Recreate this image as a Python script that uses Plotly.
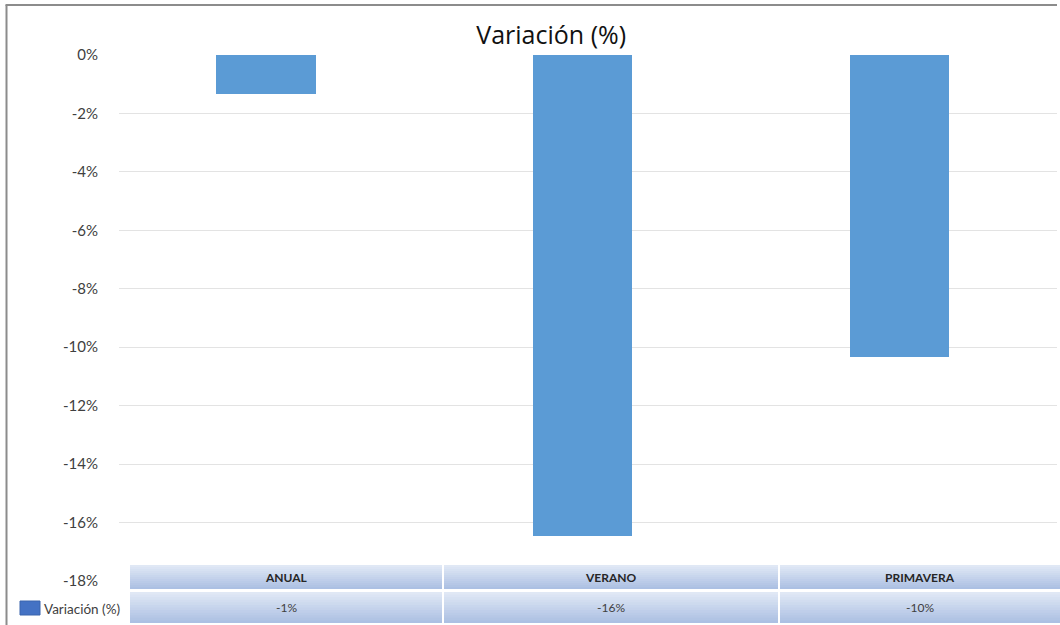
import plotly.graph_objects as go

# Seasonal variation of the indicator, in percent
categories = ["ANUAL", "VERANO", "PRIMAVERA"]
variation = [-1.35, -16.45, -10.35]
series_name = "Variación (%)"
tick_values = [0, -2, -4, -6, -8, -10, -12, -14, -16, -18]
tick_labels = ["0%", "-2%", "-4%", "-6%", "-8%", "-10%", "-12%", "-14%", "-16%", "-18%"]

W, H = 1060, 625
PL, PR, PT, PB = 119, 1057, 55, 581  # plot area in pixels


def px(p):
    return (p - PL) / (PR - PL)


def py(q):
    return (PB - q) / (PB - PT)


fig = go.Figure(
    go.Bar(
        x=categories,
        y=variation,
        width=0.313,
        marker=dict(color="#5b9bd5", line=dict(width=0)),
        name=series_name,
        showlegend=False,
    )
)

shapes = []
annotations = []


def lerp(c1, c2, t):
    return "rgb({},{},{})".format(*[round(a + (b - a) * t) for a, b in zip(c1, c2)])


top_c = (226, 234, 246)
bot_c = (170, 190, 226)

# Data table below the plot: header row with categories, value row below
col_edges = [130, 443, 779, 1061]
rows = [(565, 589), (592, 623)]
bands = 12
for r, (y0, y1) in enumerate(rows):
    for c in range(len(categories)):
        x0 = col_edges[c] + (1 if c > 0 else 0)
        x1 = col_edges[c + 1] - 1
        for b in range(bands):
            t0 = y0 + (y1 - y0) * b / bands
            t1 = min(y1, y0 + (y1 - y0) * (b + 1) / bands + 1)
            shapes.append(dict(
                type="rect", xref="paper", yref="paper",
                x0=px(x0), x1=px(x1), y0=py(t1), y1=py(t0),
                fillcolor=lerp(top_c, bot_c, (b + 0.5) / bands),
                line=dict(width=0), layer="above",
            ))

for c, cat in enumerate(categories):
    cx = (col_edges[c] + col_edges[c + 1]) / 2
    annotations.append(dict(
        x=px(cx), y=py((rows[0][0] + rows[0][1]) / 2), xref="paper", yref="paper",
        xanchor="center", yanchor="middle",
        text="<b>%s</b>" % cat, showarrow=False,
        font=dict(family="Lato", size=12, color="#262626"),
    ))
    annotations.append(dict(
        x=px(cx), y=py((rows[1][0] + rows[1][1]) / 2), xref="paper", yref="paper",
        xanchor="center", yanchor="middle",
        text="%d%%" % round(variation[c]), showarrow=False,
        font=dict(family="Lato", size=12, color="#404040"),
    ))

# Legend key inside the table's first column
shapes.append(dict(
    type="rect", xref="paper", yref="paper",
    x0=px(20), x1=px(40), y0=py(615), y1=py(601),
    fillcolor="#4472c4", line=dict(color="#3a64ad", width=1),
))
annotations.append(dict(
    x=px(42), y=py(609), xref="paper", yref="paper", xanchor="left", yanchor="middle",
    text=series_name, showarrow=False,
    font=dict(family="Lato", size=13.5, color="#404040"),
))

# Frame around the chart
shapes.append(dict(type="line", xref="paper", yref="paper",
                   x0=px(6.5), x1=px(6.5), y0=py(5), y1=py(626),
                   line=dict(color="#8c8c8c", width=2)))
shapes.append(dict(type="line", xref="paper", yref="paper",
                   x0=px(5.5), x1=px(1057), y0=py(5), y1=py(5),
                   line=dict(color="#8c8c8c", width=2)))

fig.update_layout(
    width=W, height=H,
    margin=dict(l=PL, r=W - PR, t=PT, b=H - PB, pad=0),
    paper_bgcolor="white", plot_bgcolor="white",
    title=dict(text=series_name, x=0.52, xanchor="center", y=1 - 35 / H, yanchor="middle",
               font=dict(family="Open Sans", size=25, color="#111111")),
    xaxis=dict(range=[-0.4645, 2.499], showticklabels=False, showgrid=False,
               zeroline=False, showline=False, fixedrange=True),
    yaxis=dict(range=[-18, 0], tickvals=tick_values, ticktext=tick_labels,
               showgrid=True, gridcolor="#e3e3e3", gridwidth=1, zeroline=False,
               showline=False, ticklabelstandoff=20,
               tickfont=dict(family="Lato", size=15, color="#404040")),
    shapes=shapes,
    annotations=annotations,
    bargap=0,
)

fig.write_html("out.html")
